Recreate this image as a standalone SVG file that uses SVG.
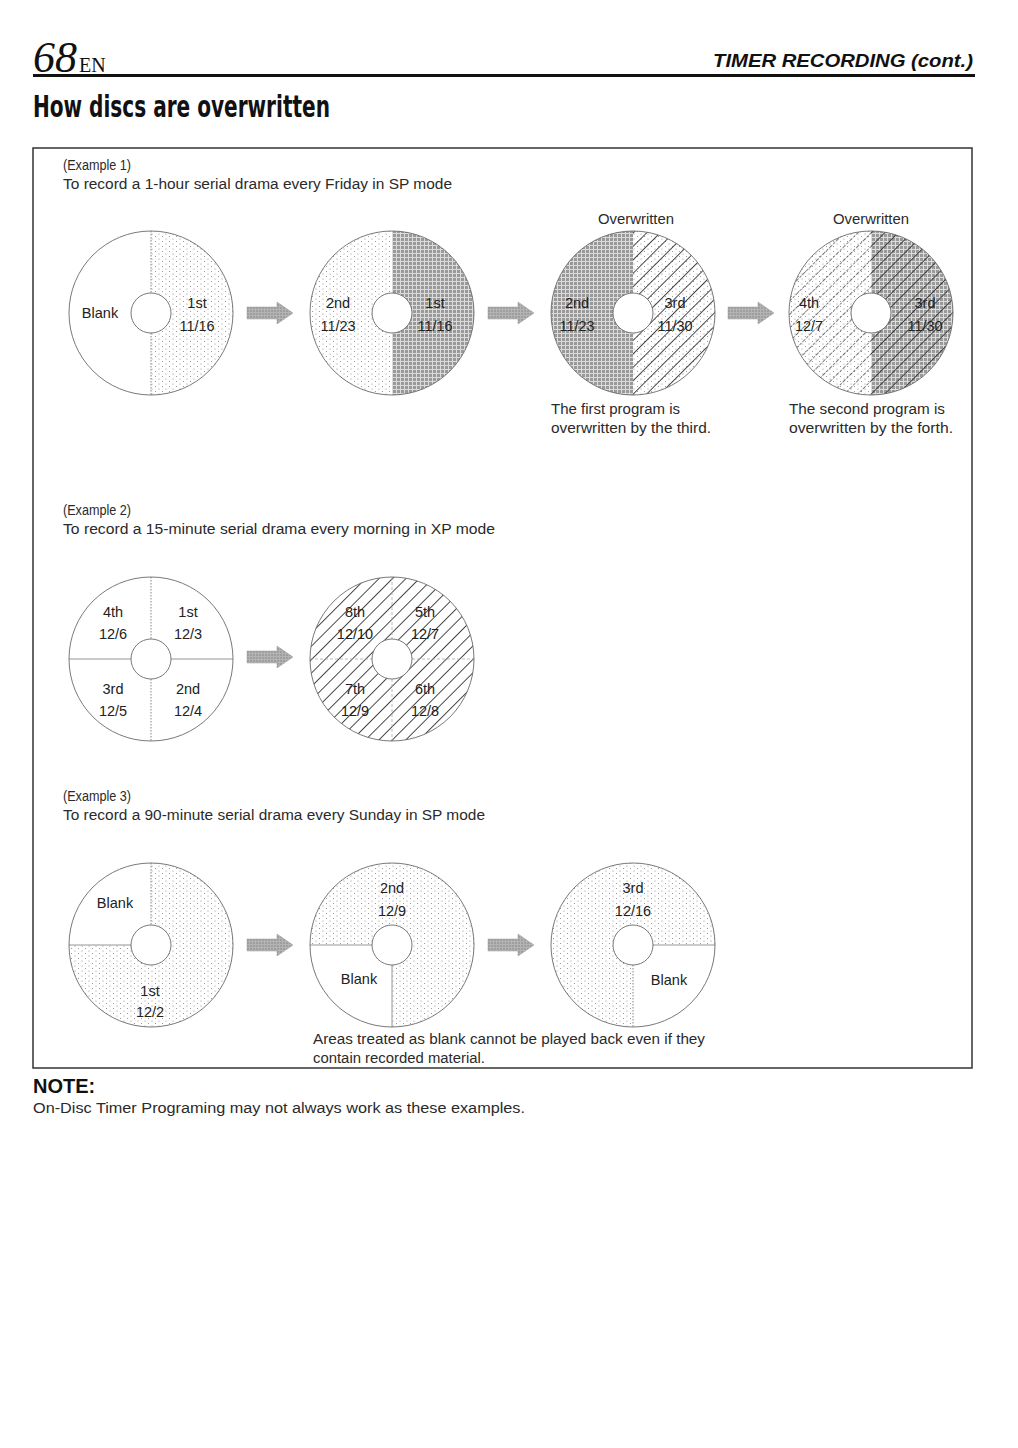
<svg xmlns="http://www.w3.org/2000/svg" xmlns:xlink="http://www.w3.org/1999/xlink" width="1018" height="1448" viewBox="0 0 1018 1448">
<style>
 .t{font-family:"Liberation Sans",Arial,sans-serif;font-size:14px;fill:#2a2a2a}
 .lbl{font-family:"Liberation Sans",Arial,sans-serif;font-size:14.5px;fill:#222;text-anchor:middle}
 .rim{fill:none;stroke:#6a6a6a;stroke-width:0.9}
 .hole{fill:#fff;stroke:#6a6a6a;stroke-width:0.9}
 .dotl{stroke:#777;stroke-width:0.9;stroke-dasharray:1.5 1.5;fill:none}
 .sol{stroke:#888;stroke-width:0.9;fill:none}
 .faint{stroke:#aaa;stroke-width:0.8;stroke-dasharray:3 2;fill:none}
 .arr{fill:url(#arrpat);stroke:#999;stroke-width:0.5}
</style>
<defs>
 <pattern id="stip" patternUnits="userSpaceOnUse" width="7" height="5">
  <circle cx="1" cy="1" r="0.55" fill="#888"/>
  <circle cx="4.5" cy="3.5" r="0.55" fill="#888"/>
 </pattern>
 <pattern id="grid" patternUnits="userSpaceOnUse" width="4" height="4">
  <rect width="4" height="4" fill="#999"/>
  <path d="M0,0.5 H4 M0.5,0 V4" stroke="#dcdcdc" stroke-width="1"/>
 </pattern>
 <pattern id="diag" patternUnits="userSpaceOnUse" width="9.5" height="9.5" patternTransform="rotate(45)">
  <line x1="0.5" y1="0" x2="0.5" y2="9.5" stroke="#333" stroke-width="0.9"/>
 </pattern>
 <pattern id="diagd" patternUnits="userSpaceOnUse" width="9.5" height="9.5" patternTransform="rotate(45)">
  <line x1="0.5" y1="0" x2="0.5" y2="9.5" stroke="#555" stroke-width="0.8" stroke-dasharray="2.5 1.5"/>
 </pattern>
 <pattern id="arrpat" patternUnits="userSpaceOnUse" width="3" height="3">
  <rect width="3" height="3" fill="#b4b4b4"/>
  <circle cx="1" cy="1" r="0.7" fill="#777"/>
 </pattern>
 <path id="arrow" d="M0,-6 H30 V-11 L46,0 L30,11 V6 H0 Z"/>
 <path id="halfR" d="M0,-82 A82,82 0 0 1 0,82 Z"/>
 <path id="halfL" d="M0,-82 A82,82 0 0 0 0,82 Z"/>
 <path id="qTL" d="M0,0 H-82 A82,82 0 0 1 0,-82 Z"/>
 <path id="qBL" d="M0,0 V82 A82,82 0 0 1 -82,0 Z"/>
 <path id="qBR" d="M0,0 H82 A82,82 0 0 1 0,82 Z"/>
</defs>

<rect width="1018" height="1448" fill="#fff"/>

<!-- header -->
<g id="header">
 <text x="33" y="72" font-family="'Liberation Serif',serif" font-style="italic" font-size="44" fill="#111">68</text>
 <text x="79" y="72" font-family="'Liberation Serif',serif" font-size="20" fill="#111">EN</text>
 <text x="973" y="67" text-anchor="end" font-family="'Liberation Sans',Arial,sans-serif" font-style="italic" font-weight="bold" font-size="19" fill="#111" textLength="260" lengthAdjust="spacingAndGlyphs">TIMER RECORDING (cont.)</text>
 <rect x="33" y="74" width="942" height="3" fill="#111"/>
 <text x="33" y="117" font-family="'Liberation Sans Narrow','DejaVu Sans Condensed','Liberation Sans',sans-serif" font-weight="bold" font-size="30" fill="#111" textLength="297" lengthAdjust="spacingAndGlyphs">How discs are overwritten</text>
</g>

<!-- frame -->
<rect id="frame" x="33" y="148" width="939" height="920" fill="none" stroke="#333" stroke-width="1.5"/>

<!-- captions -->
<g id="captions">
 <text class="t" x="63" y="170" textLength="68" lengthAdjust="spacingAndGlyphs">(Example 1)</text>
 <text class="t" x="63" y="189" textLength="389" lengthAdjust="spacingAndGlyphs">To record a 1-hour serial drama every Friday in SP mode</text>
 <text class="t" x="598" y="224" textLength="76" lengthAdjust="spacingAndGlyphs">Overwritten</text>
 <text class="t" x="833" y="224" textLength="76" lengthAdjust="spacingAndGlyphs">Overwritten</text>
 <text class="t" x="551" y="414" textLength="129" lengthAdjust="spacingAndGlyphs">The first program is</text>
 <text class="t" x="551" y="433" textLength="160" lengthAdjust="spacingAndGlyphs">overwritten by the third.</text>
 <text class="t" x="789" y="414" textLength="156" lengthAdjust="spacingAndGlyphs">The second program is</text>
 <text class="t" x="789" y="433" textLength="164" lengthAdjust="spacingAndGlyphs">overwritten by the forth.</text>

 <text class="t" x="63" y="515" textLength="68" lengthAdjust="spacingAndGlyphs">(Example 2)</text>
 <text class="t" x="63" y="534" textLength="432" lengthAdjust="spacingAndGlyphs">To record a 15-minute serial drama every morning in XP mode</text>

 <text class="t" x="63" y="801" textLength="68" lengthAdjust="spacingAndGlyphs">(Example 3)</text>
 <text class="t" x="63" y="820" textLength="422" lengthAdjust="spacingAndGlyphs">To record a 90-minute serial drama every Sunday in SP mode</text>

 <text class="t" x="313" y="1044" textLength="392" lengthAdjust="spacingAndGlyphs">Areas treated as blank cannot be played back even if they</text>
 <text class="t" x="313" y="1063" textLength="172" lengthAdjust="spacingAndGlyphs">contain recorded material.</text>
</g>

<!-- Example 1 discs -->
<g id="disc1" transform="translate(151,313)">
 <circle r="82" fill="#fff"/>
 <use xlink:href="#halfR" fill="url(#stip)"/>
 <path class="dotl" d="M0,-82 V-20 M0,20 V82"/>
 <circle class="rim" r="82"/>
 <circle class="hole" r="20"/>
 <text class="lbl" x="-51" y="5">Blank</text>
 <text class="lbl" x="46" y="-5">1st</text>
 <text class="lbl" x="46" y="18">11/16</text>
</g>
<g id="disc2" transform="translate(392,313)">
 <use xlink:href="#halfL" fill="#fff"/>
 <use xlink:href="#halfL" fill="url(#stip)"/>
 <use xlink:href="#halfR" fill="url(#grid)"/>
 <circle class="rim" r="82"/>
 <circle class="hole" r="20"/>
 <text class="lbl" x="-54" y="-5">2nd</text>
 <text class="lbl" x="-54" y="18">11/23</text>
 <text class="lbl" x="43" y="-5">1st</text>
 <text class="lbl" x="43" y="18">11/16</text>
</g>
<g id="disc3" transform="translate(633,313)">
 <use xlink:href="#halfL" fill="url(#grid)"/>
 <use xlink:href="#halfR" fill="#fff"/>
 <use xlink:href="#halfR" fill="url(#stip)"/>
 <use xlink:href="#halfR" fill="url(#diag)"/>
 <circle class="rim" r="82"/>
 <circle class="hole" r="20"/>
 <text class="lbl" x="-56" y="-5">2nd</text>
 <text class="lbl" x="-56" y="18">11/23</text>
 <text class="lbl" x="42" y="-5">3rd</text>
 <text class="lbl" x="42" y="18">11/30</text>
</g>
<g id="disc4" transform="translate(871,313)">
 <use xlink:href="#halfL" fill="#fff"/>
 <use xlink:href="#halfL" fill="url(#stip)"/>
 <use xlink:href="#halfL" fill="url(#diagd)"/>
 <use xlink:href="#halfR" fill="url(#grid)"/>
 <use xlink:href="#halfR" fill="url(#diag)"/>
 <circle class="rim" r="82"/>
 <circle class="hole" r="20"/>
 <text class="lbl" x="-62" y="-5">4th</text>
 <text class="lbl" x="-62" y="18">12/7</text>
 <text class="lbl" x="54" y="-5">3rd</text>
 <text class="lbl" x="54" y="18">11/30</text>
</g>

<!-- Example 2 discs -->
<g id="disc5" transform="translate(151,659)">
 <circle r="82" fill="#fff"/>
 <path class="dotl" d="M0,-82 V-20 M0,20 V82"/>
 <path class="sol" d="M-82,0 H-20 M20,0 H82"/>
 <circle class="rim" r="82"/>
 <circle class="hole" r="20"/>
 <text class="lbl" x="-38" y="-42">4th</text>
 <text class="lbl" x="-38" y="-20">12/6</text>
 <text class="lbl" x="37" y="-42">1st</text>
 <text class="lbl" x="37" y="-20">12/3</text>
 <text class="lbl" x="-38" y="35">3rd</text>
 <text class="lbl" x="-38" y="57">12/5</text>
 <text class="lbl" x="37" y="35">2nd</text>
 <text class="lbl" x="37" y="57">12/4</text>
</g>
<g id="disc6" transform="translate(392,659)">
 <circle r="82" fill="#fff"/>
 <circle r="82" fill="url(#diag)"/>
 <path class="faint" d="M0,-82 V-20 M0,20 V82 M-82,0 H-20 M20,0 H82"/>
 <circle class="rim" r="82"/>
 <circle class="hole" r="20"/>
 <text class="lbl" x="-37" y="-42">8th</text>
 <text class="lbl" x="-37" y="-20">12/10</text>
 <text class="lbl" x="33" y="-42">5th</text>
 <text class="lbl" x="33" y="-20">12/7</text>
 <text class="lbl" x="-37" y="35">7th</text>
 <text class="lbl" x="-37" y="57">12/9</text>
 <text class="lbl" x="33" y="35">6th</text>
 <text class="lbl" x="33" y="57">12/8</text>
</g>

<!-- Example 3 discs -->
<g id="disc7" transform="translate(151,945)">
 <circle r="82" fill="#fff"/>
 <circle r="82" fill="url(#stip)"/>
 <use xlink:href="#qTL" fill="#fff"/>
 <path class="dotl" d="M0,-82 V-20"/>
 <path class="sol" d="M-82,0 H-20"/>
 <circle class="rim" r="82"/>
 <circle class="hole" r="20"/>
 <text class="lbl" x="-36" y="-37">Blank</text>
 <text class="lbl" x="-1" y="51">1st</text>
 <text class="lbl" x="-1" y="72">12/2</text>
</g>
<g id="disc8" transform="translate(392,945)">
 <circle r="82" fill="#fff"/>
 <circle r="82" fill="url(#stip)"/>
 <use xlink:href="#qBL" fill="#fff"/>
 <path class="sol" d="M-82,0 H-20 M0,20 V82"/>
 <circle class="rim" r="82"/>
 <circle class="hole" r="20"/>
 <text class="lbl" x="0" y="-52">2nd</text>
 <text class="lbl" x="0" y="-29">12/9</text>
 <text class="lbl" x="-33" y="39">Blank</text>
</g>
<g id="disc9" transform="translate(633,945)">
 <circle r="82" fill="#fff"/>
 <circle r="82" fill="url(#stip)"/>
 <use xlink:href="#qBR" fill="#fff"/>
 <path class="sol" d="M20,0 H82"/>
 <path class="dotl" d="M0,20 V82"/>
 <circle class="rim" r="82"/>
 <circle class="hole" r="20"/>
 <text class="lbl" x="0" y="-52">3rd</text>
 <text class="lbl" x="0" y="-29">12/16</text>
 <text class="lbl" x="36" y="40">Blank</text>
</g>

<!-- connectors -->
<g id="connectors">
 <use xlink:href="#arrow" class="arr" transform="translate(247,313)"/>
 <use xlink:href="#arrow" class="arr" transform="translate(488,313)"/>
 <use xlink:href="#arrow" class="arr" transform="translate(728,313)"/>
 <use xlink:href="#arrow" class="arr" transform="translate(247,657)"/>
 <use xlink:href="#arrow" class="arr" transform="translate(247,945)"/>
 <use xlink:href="#arrow" class="arr" transform="translate(488,945)"/>
</g>

<!-- note -->
<g id="note">
 <text x="33" y="1093" font-family="'Liberation Sans',Arial,sans-serif" font-weight="bold" font-size="20" fill="#111">NOTE:</text>
 <text class="t" x="33" y="1113" textLength="492" lengthAdjust="spacingAndGlyphs">On-Disc Timer Programing may not always work as these examples.</text>
</g>
</svg>
